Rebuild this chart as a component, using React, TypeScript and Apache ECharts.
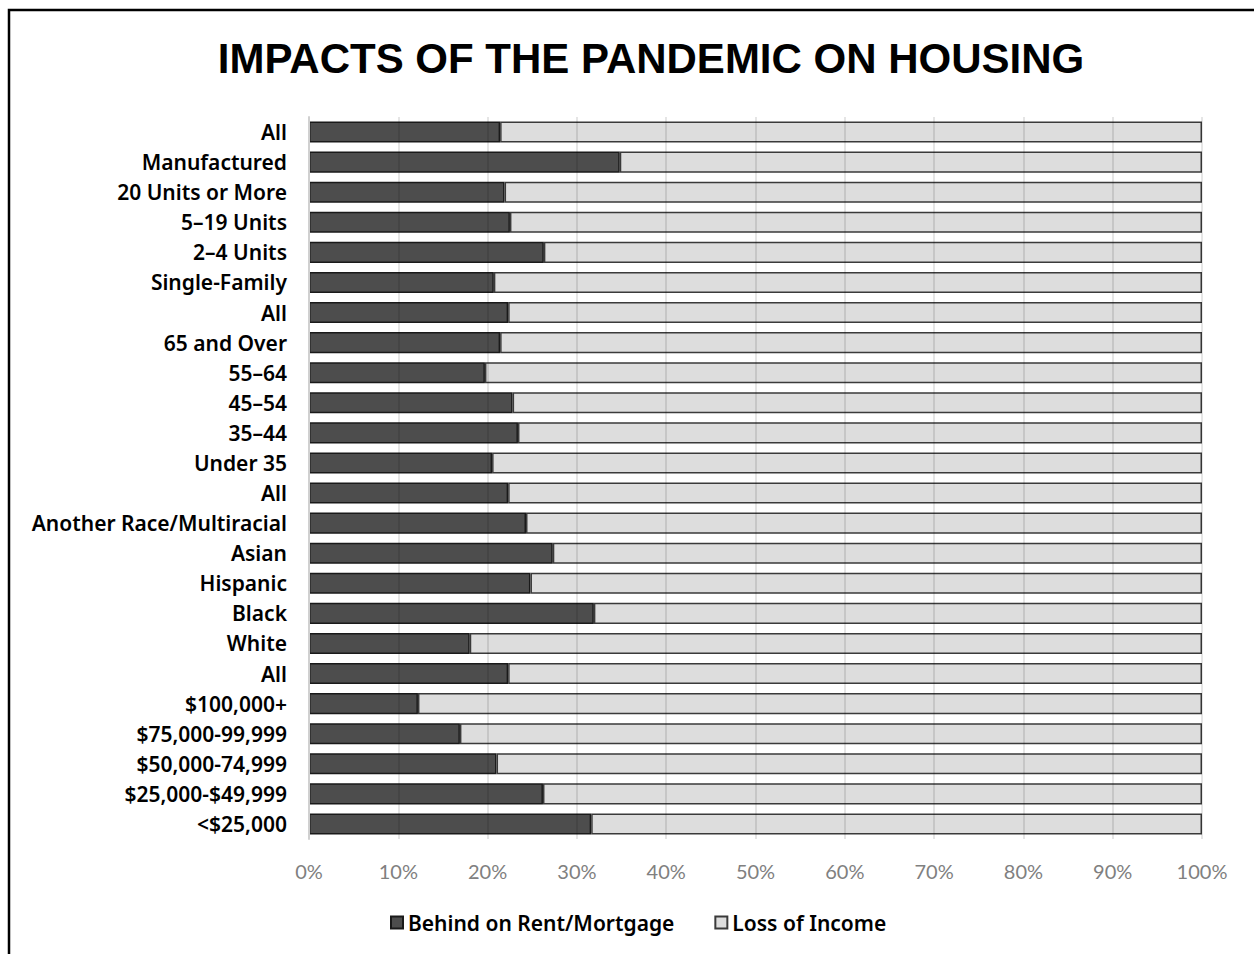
import React, { useEffect, useRef } from "react";
import * as echarts from "echarts";

const categories = [
  "All",
  "Manufactured",
  "20 Units or More",
  "5–19 Units",
  "2–4 Units",
  "Single-Family",
  "All",
  "65 and Over",
  "55–64",
  "45–54",
  "35–44",
  "Under 35",
  "All",
  "Another Race/Multiracial",
  "Asian",
  "Hispanic",
  "Black",
  "White",
  "All",
  "$100,000+",
  "$75,000-99,999",
  "$50,000-74,999",
  "$25,000-$49,999",
  "<$25,000",
];

const behindOnRent = [
  21.4, 34.8, 21.9, 22.5, 26.3, 20.7, 22.3, 21.4, 19.7, 22.8, 23.4, 20.5,
  22.3, 24.3, 27.3, 24.8, 31.9, 18.0, 22.3, 12.2, 16.9, 21.0, 26.2, 31.6,
];

const lossOfIncome = behindOnRent.map((v) => +(100 - v).toFixed(1));

const xTicks = [0, 10, 20, 30, 40, 50, 60, 70, 80, 90, 100];

const seriesNames = ["Behind on Rent/Mortgage", "Loss of Income"];

const labelFont = "Noto Sans, Liberation Sans, Arial, sans-serif";

export default function App() {
  const ref = useRef<HTMLDivElement>(null);

  useEffect(() => {
    if (!ref.current) return;
    const chart = echarts.init(ref.current, undefined, { renderer: "svg" });
    chart.setOption({
      animation: false,
      backgroundColor: "#ffffff",
      graphic: [
        {
          type: "rect",
          shape: { x: 9, y: 10, width: 1260, height: 960 },
          style: { fill: "none", stroke: "#000000", lineWidth: 2.5 },
          z: 10,
        },
      ],
      title: {
        text: "IMPACTS OF THE PANDEMIC ON HOUSING",
        left: 646,
        top: 32,
        textAlign: "center",
        textStyle: {
          fontFamily: "Liberation Sans, Arial, sans-serif",
          fontWeight: "bold",
          fontSize: 42,
          color: "#000000",
        },
      },
      legend: {
        data: seriesNames,
        left: 385,
        top: 907,
        icon: "rect",
        itemWidth: 12,
        itemHeight: 12,
        itemGap: 40,
        textStyle: {
          fontFamily: labelFont,
          fontWeight: 600,
          fontSize: 21,
          color: "#000000",
        },
      },
      grid: {
        left: 309,
        right: 52,
        top: 117,
        height: 722,
        containLabel: false,
      },
      xAxis: {
        type: "value",
        min: 0,
        max: 100,
        interval: 10,
        z: 5,
        axisLine: { show: false },
        axisTick: { show: false },
        axisLabel: {
          formatter: (v: number) => (xTicks.includes(v) ? v + "%" : ""),
          color: "#808080",
          fontFamily: "Lato, Open Sans, sans-serif",
          fontSize: 20,
          margin: 22,
        },
        splitLine: {
          show: true,
          lineStyle: { color: "rgba(0,0,0,0.1)", width: 2 },
        },
      },
      yAxis: {
        type: "category",
        data: categories,
        inverse: true,
        z: 5,
        axisLine: { show: true, lineStyle: { color: "#d0d0d0", width: 2 } },
        axisTick: { show: false },
        axisLabel: {
          color: "#000000",
          fontFamily: labelFont,
          fontWeight: 600,
          fontSize: 21,
          margin: 22,
        },
        splitLine: { show: false },
      },
      series: [
        {
          name: seriesNames[0],
          type: "bar",
          stack: "total",
          data: behindOnRent,
          barCategoryGap: "30%",
          itemStyle: {
            color: "#4d4d4d",
            borderColor: "#1a1a1a",
            borderWidth: 1.5,
          },
          z: 2,
        },
        {
          name: seriesNames[1],
          type: "bar",
          stack: "total",
          data: lossOfIncome,
          barCategoryGap: "30%",
          itemStyle: {
            color: "#dddddd",
            borderColor: "#3a3a3a",
            borderWidth: 1.5,
          },
          z: 2,
        },
      ],
    });
    return () => chart.dispose();
  }, []);

  return (
    <div
      ref={ref}
      style={{
        position: "fixed",
        left: 0,
        top: 0,
        width: 1254,
        height: 954,
      }}
    />
  );
}
